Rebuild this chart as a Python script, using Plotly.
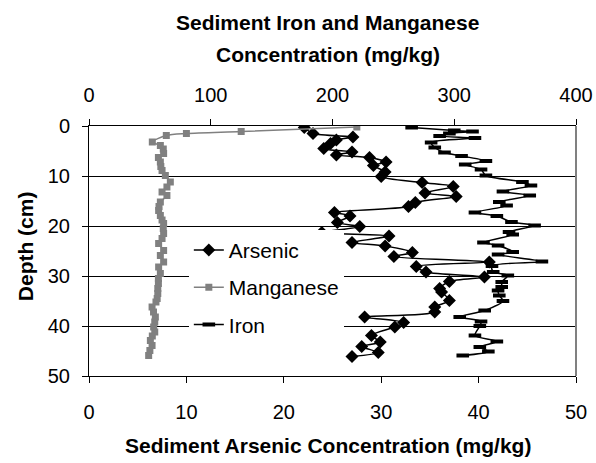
import plotly.graph_objects as go

# Arsenic (bottom axis, mg/kg)
as_depth = [0.3, 1.5, 2.2, 2.8, 3.5, 4.5, 5.2, 5.8, 6.3, 7.2, 7.9, 9.2, 10.1, 11.3, 12.1, 13.4,
            14.1, 15.3, 16.1, 17.3, 18.0, 19.3, 20.1, 21.3, 22.0, 23.3, 24.0, 25.3, 26.1, 27.2,
            28.1, 29.2, 30.2, 31.1, 32.5, 33.2, 34.9, 36.2, 37.2, 38.2, 39.3, 40.2, 41.9, 43.2,
            44.1, 45.3, 46.1]
as_conc = [22.1, 23.0, 27.1, 25.4, 24.8, 24.1, 27.0, 25.4, 28.8, 30.5, 29.2, 30.4, 30.0, 34.2,
           37.4, 34.5, 37.7, 33.5, 32.8, 25.2, 26.8, 25.5, 27.8, 23.9, 30.8, 27.0, 30.4, 33.2,
           31.3, 41.1, 33.6, 34.6, 40.6, 37.0, 36.0, 36.2, 37.0, 35.5, 35.5, 28.3, 32.3, 31.4,
           29.0, 29.9, 28.0, 29.7, 27.0]

# Manganese (top axis, mg/kg)
mn_depth = [0.2, 1.1, 1.5, 1.9, 3.2, 3.9, 4.6, 5.5, 6.3, 7.2, 8.1, 8.9, 9.9, 11.2, 12.2, 13.2,
            13.9, 15.2, 16.1, 16.9, 17.9, 18.8, 19.5, 20.5, 21.5, 22.5, 23.5, 24.9, 25.9, 27.2,
            28.2, 29.5, 30.5, 31.5, 32.5, 33.5, 34.5, 35.2, 36.2, 37.2, 38.2, 39.2, 40.2, 41.2,
            42.0, 42.9, 43.9, 44.9, 45.9]
mn_conc = [220, 125, 80, 63.5, 52, 58.6, 61, 61.3, 57, 58.6, 59, 60, 62.7, 66.8, 64, 60,
           64, 58.6, 57.5, 57.2, 58.6, 60, 61.3, 61, 61.3, 60, 57.2, 61.3, 58.6, 61.3,
           57.2, 58.6, 57, 57, 56.5, 56.5, 56, 55, 51.8, 53, 54.5, 54, 53.1, 54,
           52, 50.4, 51.8, 50, 49]

# Iron (top axis, mg/kg)
fe_depth = [0.3, 0.9, 1.1, 1.5, 2.0, 2.4, 3.3, 4.3, 5.3, 6.0, 7.0, 7.7, 8.7, 9.9, 11.2, 11.9,
            13.1, 13.9, 15.2, 15.9, 17.3, 18.0, 19.2, 19.9, 21.2, 21.7, 23.3, 23.9, 25.2, 25.7,
            27.1, 28.0, 29.2, 29.9, 31.2, 32.2, 32.9, 33.9, 35.0, 36.9, 38.2, 39.1, 40.0, 41.9,
            43.1, 44.2, 45.1, 45.9]
fe_conc = [265, 300, 315, 296, 288, 317, 281, 284, 292, 306, 326, 309, 322, 326, 356, 363,
           340, 362, 337, 343, 317, 335, 347, 366, 345, 348, 324, 336, 348, 336,
           372, 331, 332, 344, 339, 339, 336, 337, 340, 325, 304.5, 322, 321, 317,
           335, 321, 328, 307]

as_ticks = [0, 10, 20, 30, 40, 50]
femn_ticks = [0, 100, 200, 300, 400]
depth_ticks = [0, 10, 20, 30, 40, 50]

FONT = "Arial, Liberation Sans, sans-serif"
GRAY = "#808080"

fig = go.Figure()
fig.add_trace(go.Scatter(
    x=as_conc, y=as_depth, name="Arsenic", xaxis="x", yaxis="y", legendgroup="a",
    mode="lines+markers", line=dict(color="black", width=1.5, shape="spline", smoothing=0.8),
    marker=dict(symbol="diamond", size=10, color="black")))
fig.add_trace(go.Scatter(
    x=mn_conc, y=mn_depth, name="Manganese", xaxis="x2", yaxis="y", legendgroup="b",
    mode="lines+markers", line=dict(color=GRAY, width=1.5, shape="spline", smoothing=0.8),
    marker=dict(symbol="square", size=7, color=GRAY)))
fig.add_trace(go.Scatter(
    x=fe_conc, y=fe_depth, name="Iron", xaxis="x2", yaxis="y", legendgroup="c",
    mode="lines+markers", line=dict(color="black", width=1.5, shape="spline", smoothing=0.8),
    marker=dict(symbol="line-ew", size=9, color="black", line=dict(color="black", width=4))))

axis_common = dict(showline=True, linecolor="black", linewidth=1, ticks="outside",
                   tickcolor="black", ticklen=6, zeroline=False, automargin=False,
                   tickfont=dict(family=FONT, size=20, color="black"))

fig.update_layout(
    width=596, height=463,
    margin=dict(l=89, r=20, t=126, b=87, autoexpand=False),
    paper_bgcolor="white", plot_bgcolor="white",
    font=dict(family=FONT, color="black"),
    xaxis=dict(range=[0, 50], tickvals=as_ticks, showgrid=False, side="bottom",
               ticklabelstandoff=12, **axis_common),
    xaxis2=dict(range=[0, 400], tickvals=femn_ticks, showgrid=False, side="top",
                overlaying="x", anchor="y", ticklabelstandoff=9, **axis_common),
    yaxis=dict(range=[50, 0], tickvals=depth_ticks, showgrid=True, gridcolor="black",
               gridwidth=1, ticklabelstandoff=8, **axis_common),
    showlegend=True,
    legend=dict(x=0.205, y=0.585, xanchor="left", yanchor="top", bgcolor="white",
                borderwidth=0, font=dict(family=FONT, size=21, color="black"),
                tracegroupgap=7, traceorder="grouped"),
    shapes=[dict(type="line", xref="paper", yref="paper", x0=1, x1=1, y0=0, y1=1,
                 line=dict(color=GRAY, width=2))],
    annotations=[
        dict(text="<b>Sediment Iron and Manganese</b>", xref="paper", yref="paper",
             x=0.49, y=1.416, xanchor="center", yanchor="middle", showarrow=False,
             font=dict(family=FONT, size=21, color="black")),
        dict(text="<b>Concentration (mg/kg)</b>", xref="paper", yref="paper",
             x=0.49, y=1.284, xanchor="center", yanchor="middle", showarrow=False,
             font=dict(family=FONT, size=21, color="black")),
        dict(text="<b>Sediment Arsenic Concentration (mg/kg)</b>", xref="paper", yref="paper",
             x=0.49, y=-0.276, xanchor="center", yanchor="middle", showarrow=False,
             font=dict(family=FONT, size=21, color="black")),
        dict(text="<b>Depth (cm)</b>", xref="paper", yref="paper", textangle=-90,
             x=-0.131, y=0.52, xanchor="center", yanchor="middle", showarrow=False,
             font=dict(family=FONT, size=21, color="black")),
    ],
)

fig.write_html("out.html", config={"displayModeBar": False},
               post_script="document.body.style.margin='0';")
